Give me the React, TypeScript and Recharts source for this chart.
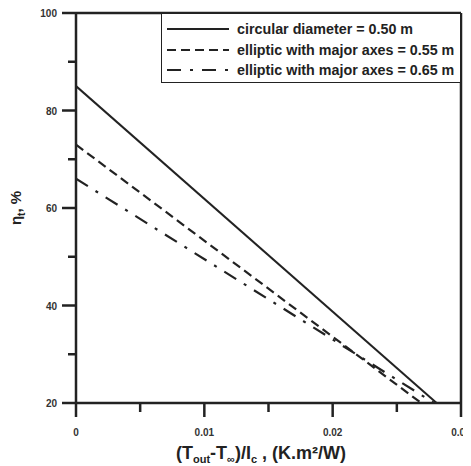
import { LineChart, Line, XAxis, YAxis, ReferenceLine } from 'recharts';

// x = (Tout - Tinf)/Ic, y = efficiency (%)
const circularData = [
  { x: 0, y: 85 },
  { x: 0.0281, y: 20 },
];
const ellipse055Data = [
  { x: 0, y: 73 },
  { x: 0.0269, y: 20 },
];
const ellipse065Data = [
  { x: 0, y: 66 },
  { x: 0.0279, y: 20 },
];

const seriesNames = [
  'circular diameter = 0.50 m',
  'elliptic with major axes = 0.55 m',
  'elliptic with major axes = 0.65 m',
];
const seriesDash = ['0', '9 5', '14 9 3 9'];

const xTicks = [0, 0.005, 0.01, 0.015, 0.02, 0.025, 0.03];
const xMajor = [0, 0.01, 0.02, 0.03];
const yTicks = [20, 30, 40, 50, 60, 70, 80, 90, 100];
const yMajor = [20, 40, 60, 80, 100];

const INK = '#222';
const FONT = '"Liberation Sans", Arial, sans-serif';

const isMajor = (list: number[], v: number) => list.some((m) => Math.abs(m - v) < 1e-9);

const XTick = (props: any) => {
  const { x, y, payload } = props;
  const major = isMajor(xMajor, payload.value);
  return (
    <g>
      <line x1={x} x2={x} y1={y} y2={y + (major ? 14 : 9)} stroke={INK} strokeWidth={2.5} />
      {major && (
        <text x={x} y={y + 33} textAnchor="middle" fontSize={10} fontWeight="bold" fill="#333" fontFamily={FONT}>
          {payload.value === 0 ? '0' : payload.value.toFixed(2)}
        </text>
      )}
    </g>
  );
};

const YTick = (props: any) => {
  const { x, y, payload } = props;
  const major = isMajor(yMajor, payload.value);
  return (
    <g>
      <line x1={x} x2={x - (major ? 14 : 8)} y1={y} y2={y} stroke={INK} strokeWidth={2.5} />
      {major && (
        <text x={x - 19} y={y + 4} textAnchor="end" fontSize={10} fontWeight="bold" fill="#333" fontFamily={FONT}>
          {payload.value}
        </text>
      )}
    </g>
  );
};

// legend drawn as an overlay so it does not shrink the plot area
const LegendBox = () => (
  <div
    style={{
      position: 'absolute',
      left: 153,
      top: 5,
      width: 300,
      height: 70,
      border: `1.5px solid ${INK}`,
      background: '#fff',
      boxSizing: 'border-box',
      padding: '5px 0 0 5px',
      fontFamily: FONT,
      fontWeight: 'bold',
      fontSize: 14.3,
      color: '#222',
    }}
  >
    {seriesNames.map((name, i) => (
      <div key={name} style={{ display: 'flex', alignItems: 'center', height: 20.5 }}>
        <svg width={62} height={10} style={{ marginRight: 8 }}>
          <line x1={0} x2={62} y1={5} y2={5} stroke={INK} strokeWidth={2} strokeDasharray={seriesDash[i]} />
        </svg>
        <span>{name}</span>
      </div>
    ))}
  </div>
);

export default function App() {
  return (
    <div style={{ position: 'relative', background: '#fff', width: 463, height: 458 }}>
      <style>{'svg.recharts-surface, .recharts-wrapper { overflow: visible !important; }'}</style>
      <LineChart width={463} height={458} margin={{ top: 5, right: 10, bottom: 0, left: 0 }}>
        <XAxis
          type="number"
          dataKey="x"
          domain={[0, 0.03]}
          ticks={xTicks}
          interval={0}
          height={63}
          tickSize={0}
          tickMargin={0}
          tickLine={false}
          tick={<XTick />}
          axisLine={{ stroke: INK, strokeWidth: 2.5 }}
          allowDataOverflow
          label={{
            content: () => (
              <text x={253} y={451} textAnchor="middle" fontSize={18} fontWeight="bold" fill={INK} fontFamily={FONT}>
                (T<tspan fontSize={11} dy={4}>out</tspan>
                <tspan dy={-4}>-T</tspan>
                <tspan fontSize={11} dy={4}>∞</tspan>
                <tspan dy={-4}>)/I</tspan>
                <tspan fontSize={11} dy={4}>c</tspan>
                <tspan dy={-4}> , (K.m²/W)</tspan>
              </text>
            ),
          }}
        />
        <YAxis
          type="number"
          domain={[20, 100]}
          ticks={yTicks}
          interval={0}
          width={68}
          tickSize={0}
          tickMargin={0}
          tickLine={false}
          tick={<YTick />}
          axisLine={{ stroke: INK, strokeWidth: 2.5 }}
          allowDataOverflow
          label={{
            content: () => (
              <text
                x={13}
                y={200}
                transform="rotate(-90 13 200)"
                textAnchor="middle"
                fontSize={15}
                fontWeight="bold"
                fill={INK}
                fontFamily={FONT}
              >
                η<tspan fontSize={10} dy={4}>t</tspan>
                <tspan dy={-4}>, %</tspan>
              </text>
            ),
          }}
        />
        <ReferenceLine y={100} stroke={INK} strokeWidth={2.5} />
        <ReferenceLine x={0.03} stroke={INK} strokeWidth={2.5} />
        <Line
          data={circularData}
          dataKey="y"
          name={seriesNames[0]}
          stroke={INK}
          strokeWidth={2}
          dot={false}
          isAnimationActive={false}
        />
        <Line
          data={ellipse055Data}
          dataKey="y"
          name={seriesNames[1]}
          stroke={INK}
          strokeWidth={2.2}
          strokeDasharray={seriesDash[1]}
          dot={false}
          isAnimationActive={false}
        />
        <Line
          data={ellipse065Data}
          dataKey="y"
          name={seriesNames[2]}
          stroke={INK}
          strokeWidth={2.2}
          strokeDasharray={seriesDash[2]}
          dot={false}
          isAnimationActive={false}
        />
      </LineChart>
      <LegendBox />
    </div>
  );
}
